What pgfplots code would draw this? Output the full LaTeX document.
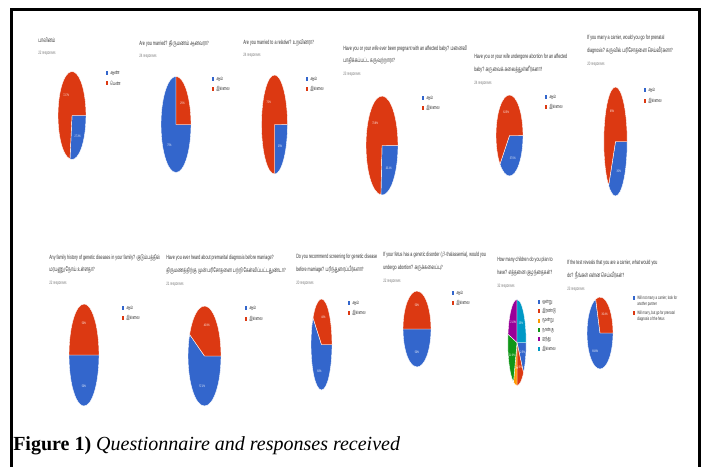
\documentclass[border=0pt]{standalone}
\usepackage{fontspec}
\setmainfont{Liberation Serif}
\newfontfamily\gs{Liberation Sans}
\newfontfamily\ta[Script=Tamil]{Hind Madurai}
\usepackage{graphicx}
\usepackage{pgfplots}
\pgfplotsset{compat=1.18}

\definecolor{gblue}{HTML}{3366CC}
\definecolor{gred}{HTML}{DC3912}
\definecolor{gorange}{HTML}{FF9900}
\definecolor{ggreen}{HTML}{109618}
\definecolor{gpurple}{HTML}{990099}
\definecolor{gteal}{HTML}{0099C6}
\definecolor{qtext}{HTML}{333333}
\definecolor{qgray}{HTML}{777777}

\newcommand\pctfont{\gs\fontsize{2.6}{3}\selectfont}
\newcommand\qfont{\gs\fontsize{4.6}{9.5}\selectfont}
\newcommand\yes{{\ta ஆம்}}
\newcommand\no{{\ta இல்லை}}

% one pie: centre x, centre y, x radius, y radius (all in pixels), value/colour list
% slices start at 3 o'clock and run clockwise, like the form's charts
\newcommand\pie[5]{%
  \pgfmathsetlengthmacro\pw{2*#3*0.75pt}%
  \pgfmathsetlengthmacro\ph{2*#4*0.75pt}%
  \begin{axis}[at={({#1*0.75pt},{-#2*0.75pt})}, anchor=center,
      scale only axis, width=\pw, height=\ph, hide axis,
      xmin=-1, xmax=1, ymin=-1, ymax=1, clip=false]
    \foreach \v/\cl [remember=\ea as \sa (initially 0)] in {#5} {
      \pgfmathsetmacro\ea{\sa-3.6*\v}
      \pgfmathsetmacro\ma{(\sa+\ea)/2}
      \edef\tmp{%
        \noexpand\fill[\cl, draw=white, line width=0.3pt] (axis cs:0,0)
          -- (axis cs:{cos(\sa)},{sin(\sa)})
          arc[start angle=\sa, end angle=\ea, x radius=#3*0.75pt, y radius=#4*0.75pt]
          -- cycle;
        \noexpand\node[text=white, inner sep=0pt]
          at (axis cs:{0.62*cos(\ma)},{0.62*sin(\ma)})
          {\noexpand\scalebox{0.6}[1]{\noexpand\pctfont\v\noexpand\%}};}%
      \tmp
    }
  \end{axis}}

% question title: x, top y, width (px), text, responses
\newcommand\q[5]{%
  \node[anchor=north west, inner sep=0pt, text=qtext] at (#1,#2)
    {\scalebox{0.6}[1]{\parbox[t]{\dimexpr #3pt*5/4\relax}{\raggedright\qfont #4\\
      {\color{qgray}\fontsize{3.6}{6}\selectfont #5}}}};}

% legend entry: x, y, colour, text
\newcommand\leg[4]{%
  \fill[#3] (#1,#2-2) rectangle ++(2.2,4);
  \node[anchor=west, inner sep=0pt, text=qtext] at (#1+4,#2)
    {\scalebox{0.6}[1]{\gs\fontsize{4}{4.6}\selectfont #4}};}

\begin{document}
\begin{tikzpicture}[x=0.75pt, y=-0.75pt]
\useasboundingbox (0,0) rectangle (707,467);

% frame
\draw[line width=2.25pt] (11.5,467) -- (11.5,9.5) -- (699.5,9.5) -- (699.5,467);

% ---- first row
\pie{72}{115.5}{14}{44}{27.3/gblue,72.7/gred}
\pie{176}{124.5}{15}{48}{75/gblue,25/gred}
\pie{274.5}{124.5}{13}{49.5}{25/gblue,75/gred}
\pie{382}{145.5}{16}{49.5}{26.1/gblue,73.9/gred}
\pie{509.5}{135.5}{13.5}{40.5}{37.5/gblue,62.5/gred}
\pie{615.5}{141.5}{11.7}{54.5}{35/gblue,65/gred}

% ---- second row
\pie{84}{355}{15}{51}{50/gblue,50/gred}
\pie{204.5}{356}{16.5}{50}{57.1/gblue,42.9/gred}
\pie{321.5}{344.5}{10.5}{45.5}{60/gblue,40/gred}
\pie{417}{329}{14}{38}{50/gblue,50/gred}
\pie{517}{342.5}{9.2}{43}{12.5/gblue,12.5/gred,6.2/gorange,21.9/ggreen,21.9/gpurple,25/gteal}
\pie{600}{333}{13}{36}{69.6/gblue,30.4/gred}

% ---- titles
\q{38}{37}{40}{{\ta பாலினம்}}{22 responses}
\q{139}{40}{70}{Are you married? {\ta திருமணம் ஆனவரா?}}{24 responses}
\q{243}{39}{100}{Are you married to a relative? {\ta உறவினரா?}}{24 responses}
\q{343}{45}{124}{Have you or your wife ever been pregnant with an affected baby? {\ta மனைவி பாதிக்கப்பட்ட கருவுற்றாரா?}}{23 responses}
\q{474}{54}{103}{Have you or your wife undergone abortion for an affected baby? {\ta கருவைக் கலைத்துள்ளீர்களா?}}{24 responses}
\q{587}{35}{88}{If you marry a carrier, would you go for prenatal diagnosis? {\ta கருவில் பரிசோதனை செய்வீர்களா?}}{20 responses}
\q{49}{254}{111}{Any family history of genetic diseases in your family? {\ta குடும்பத்தில் மரபணு நோய் உள்ளதா?}}{22 responses}
\q{166}{255}{121}{Have you ever heard about premarital diagnosis before marriage? {\ta திருமணத்திற்கு முன் பரிசோதனை பற்றி கேள்விப்பட்டதுண்டா?}}{21 responses}
\q{296}{254}{81}{Do you recommend screening for genetic disease before marriage? {\ta பரிந்துரைப்பீர்களா?}}{20 responses}
\q{383}{252}{107}{If your fetus has a genetic disorder ($\beta$-thalassemia), would you undergo abortion? {\ta கருக்கலைப்பு?}}{22 responses}
\q{497}{257}{65}{How many children do you plan to have? {\ta எத்தனை குழந்தைகள்?}}{32 responses}
\q{567}{260}{95}{If the test reveals that you are a carrier, what would you do? {\ta நீங்கள் என்ன செய்வீர்கள்?}}{23 responses}

% ---- legends
\leg{106}{73}{gblue}{\ta ஆண்}
\leg{106}{83}{gred}{\ta பெண்}
\leg{212}{79}{gblue}{\yes}
\leg{212}{89}{gred}{\no}
\leg{306}{79}{gblue}{\yes}
\leg{306}{89}{gred}{\no}
\leg{422}{98}{gblue}{\yes}
\leg{422}{108}{gred}{\no}
\leg{545}{97}{gblue}{\yes}
\leg{545}{107}{gred}{\no}
\leg{644}{90}{gblue}{\yes}
\leg{644}{101}{gred}{\no}
\leg{122}{308}{gblue}{\yes}
\leg{122}{318}{gred}{\no}
\leg{245}{308}{gblue}{\yes}
\leg{245}{319}{gred}{\no}
\leg{348}{303}{gblue}{\yes}
\leg{348}{313}{gred}{\no}
\leg{452}{293}{gblue}{\yes}
\leg{452}{303}{gred}{\no}
\leg{538}{302}{gblue}{\ta ஒன்று}
\leg{538}{311.3}{gred}{\ta இரண்டு}
\leg{538}{320.6}{gorange}{\ta மூன்று}
\leg{538}{329.9}{ggreen}{\ta நான்கு}
\leg{538}{339.2}{gpurple}{\ta ஐந்து}
\leg{538}{348.5}{gteal}{\ta இல்லை}
\fill[gblue] (633,296) rectangle ++(2.2,4);
\node[anchor=north west, inner sep=0pt, text=qtext] at (637,296)
  {\scalebox{0.6}[1]{\parbox[t]{56pt}{\raggedright\gs\fontsize{3.6}{4.4}\selectfont Will not marry a carrier; look for another partner}}};
\fill[gred] (633,311) rectangle ++(2.2,4);
\node[anchor=north west, inner sep=0pt, text=qtext] at (637,311)
  {\scalebox{0.6}[1]{\parbox[t]{56pt}{\raggedright\gs\fontsize{3.6}{4.4}\selectfont Will marry, but go for prenatal diagnosis of the fetus}}};

% ---- caption
\node[anchor=base west, inner sep=0pt] at (13,450)
  {\fontsize{15}{18}\selectfont\textbf{Figure 1)} \textit{Questionnaire and responses received}};
\end{tikzpicture}
\end{document}
